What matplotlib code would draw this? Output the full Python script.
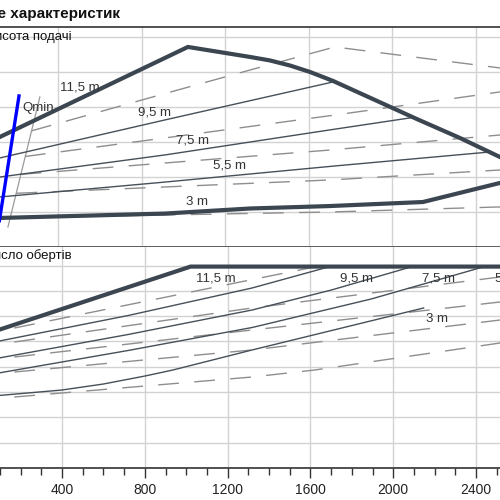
import matplotlib.pyplot as plt
import numpy as np

plt.rcParams['font.family'] = ['Liberation Sans', 'DejaVu Sans']

# ---- upper panel: head H (m) vs flow Q ----
env_q = [20, 121, 1021, 1318, 1414, 1510, 1606, 1716, 1917, 2118, 2324, 2516, 2564]
env_h = [5.71, 6.29, 11.43, 10.86, 10.66, 10.37, 10.0, 9.49, 8.4, 7.31, 6.23, 5.14, 4.88]

low_q = [25, 121, 911, 1318, 1701, 2147, 2516, 2612]
low_h = [1.61, 1.66, 1.91, 2.2, 2.34, 2.57, 3.66, 3.94]

h95_q = [20, 121, 911, 1716]
h95_h = [4.81, 5.09, 7.26, 9.43]
h75_q = [20, 121, 911, 1701, 2099]
h75_h = [3.84, 4.0, 5.26, 6.69, 7.4]
h55_q = [20, 121, 911, 1725, 2468]
h55_h = [2.75, 2.86, 3.71, 4.63, 5.43]

qmin_q = [212, 118]
qmin_h = [8.63, 1.5]
qmin2_q = [312, 159]
qmin2_h = [8.57, 1.14]

# dashed family (second variant)
dash_top_q = [270, 921, 1318, 1725, 2516, 2612]
dash_top_h = [6.63, 8.8, 10.11, 11.43, 10.23, 10.06]
dash_b_q = [240, 911, 1725, 2516, 2612]
dash_b_h = [5.17, 6.23, 7.54, 8.86, 9.01]
dash_c_q = [220, 911, 1701, 2516, 2612]
dash_c_h = [4.15, 4.8, 5.54, 6.4, 6.5]
dash_d_q = [200, 911, 1701, 2516, 2612]
dash_d_h = [3.07, 3.43, 3.83, 4.4, 4.47]
dash_e_q = [170, 911, 1701, 2516, 2612]
dash_e_h = [1.67, 1.83, 2.0, 2.29, 2.32]

# ---- lower panel: speed n (1/min) vs flow Q ----
nmax_q = [25, 121, 1021, 2612]
nmax_n = [2636, 2766, 3980, 3980]
n115_q = [20, 121, 719, 1318, 1687]
n115_n = [2442, 2529, 3013, 3557, 3972]
n95_q = [20, 121, 719, 1318, 1701, 2085]
n95_n = [2114, 2193, 2638, 3122, 3517, 3972]
n75_q = [20, 121, 719, 1318, 1893, 2434]
n75_n = [1822, 1897, 2322, 2776, 3339, 3972]
n3_q = [20, 121, 399, 600, 801, 935, 1318, 2147]
n3_n = [1407, 1442, 1541, 1660, 1818, 1936, 2332, 3162]

ndash_a_q = [169, 1237, 1620]
ndash_a_n = [2766, 3656, 3972]
ndash_b_q = [169, 1318, 2516, 2612]
ndash_b_n = [2490, 3162, 3774, 3853]
ndash_c_q = [169, 1318, 2516, 2612]
ndash_c_n = [2193, 2727, 3280, 3302]
ndash_d_q = [169, 1318, 2516, 2612]
ndash_d_n = [1897, 2332, 2924, 2954]
ndash_e_q = [169, 1318, 1620, 2516, 2612]
ndash_e_n = [1403, 1798, 1936, 2470, 2539]

thick_c = '#3b4650'
thin_c = '#46505a'
dash_c = '#8e8e8e'
grid_c = '#d2d2d2'
txt_c = '#333333'
dash_style = (0, (15, 11))

fig = plt.figure(figsize=(5, 5), dpi=100)
ax1 = fig.add_axes([0, 0.506, 1, 0.44])
ax2 = fig.add_axes([0, 0.064, 1, 0.442])

for ax in (ax1, ax2):
    ax.set_xlim(121, 2516)
    ax.set_xticks(np.arange(400, 2600, 400))
    ax.grid(True, color=grid_c, lw=1.0, zorder=0)
    ax.set_axisbelow(True)
    ax.spines['left'].set_visible(False)
    ax.spines['right'].set_visible(False)
    ax.tick_params(axis='y', length=0, labelleft=False)

ax1.set_ylim(0, 12.57)
ax1.set_yticks(np.arange(0, 13, 2))
ax1.tick_params(axis='x', length=0, labelbottom=False)
ax1.spines['top'].set_color('#333333')
ax1.spines['top'].set_linewidth(1.2)
ax1.spines['bottom'].set_color('#444444')
ax1.spines['bottom'].set_linewidth(1.2)

ax2.set_ylim(0, 4367)
ax2.set_yticks(np.arange(0, 4500, 500))
ax2.spines['top'].set_visible(False)
ax2.spines['bottom'].set_color('#333333')
ax2.spines['bottom'].set_linewidth(1.2)
ax2.set_xticks(np.arange(100, 2600, 100), minor=True)
ax2.tick_params(axis='x', which='major', direction='out', length=7, width=1, color='#333333',
                labelsize=10, labelcolor='#222222', pad=4)
ax2.tick_params(axis='x', which='minor', direction='out', length=5, width=1, color='#333333')

# upper panel curves
for q, h in [(dash_top_q, dash_top_h), (dash_b_q, dash_b_h), (dash_c_q, dash_c_h),
             (dash_d_q, dash_d_h), (dash_e_q, dash_e_h)]:
    ax1.plot(q, h, color=dash_c, lw=1.0, linestyle=dash_style, zorder=2)
ax1.plot(qmin2_q, qmin2_h, color='#9a9a9a', lw=0.9, zorder=2)
for q, h in [(h95_q, h95_h), (h75_q, h75_h), (h55_q, h55_h)]:
    ax1.plot(q, h, color=thin_c, lw=1.0, zorder=3)
ax1.plot(env_q, env_h, color=thick_c, lw=3, solid_joinstyle='miter', zorder=4)
ax1.plot(low_q, low_h, color=thick_c, lw=3, zorder=4)
ax1.plot(qmin_q, qmin_h, color='#0000ff', lw=2.4, zorder=5)

lab = dict(fontsize=9.5, color=txt_c, ha='center', va='center', zorder=6)
ax1.text(504, 9.14, '11,5 m', **lab)
ax1.text(863, 7.66, '9,5 m', **lab)
ax1.text(1045, 6.11, '7,5 m', **lab)
ax1.text(1222, 4.63, '5,5 m', **lab)
ax1.text(1064, 2.57, '3 m', **lab)
ax1.text(226, 7.94, 'Qmin', fontsize=9.5, color=txt_c, ha='left', va='center', zorder=6)

# lower panel curves
for q, n in [(ndash_a_q, ndash_a_n), (ndash_b_q, ndash_b_n), (ndash_c_q, ndash_c_n),
             (ndash_d_q, ndash_d_n), (ndash_e_q, ndash_e_n)]:
    ax2.plot(q, n, color=dash_c, lw=1.0, linestyle=dash_style, zorder=2)
for q, n in [(n115_q, n115_n), (n95_q, n95_n), (n75_q, n75_n), (n3_q, n3_n)]:
    ax2.plot(q, n, color=thin_c, lw=1.0, zorder=3)
ax2.plot(nmax_q, nmax_n, color=thick_c, lw=3, solid_joinstyle='miter', zorder=4)

ax2.text(1141, 3735, '11,5 m', **lab)
ax2.text(1821, 3735, '9,5 m', **lab)
ax2.text(2219, 3735, '7,5 m', **lab)
ax2.text(2492, 3735, '5,5 m', fontsize=9.5, color=txt_c, ha='left', va='center', zorder=6)
ax2.text(2214, 2944, '3 m', **lab)

# titles (left part cut off in the original)
fig.text(120 / 500, 1 - 14 / 500, 'Поле характеристик', fontsize=11, fontweight='bold',
         color='#111111', ha='right', va='center')
fig.text(72 / 500, 1 - 37 / 500, 'Висота подачі', fontsize=9.5, color='#111111',
         ha='right', va='center')
fig.text(72 / 500, 1 - 256 / 500, 'Число обертів', fontsize=9.5, color='#111111',
         ha='right', va='center')

plt.savefig('out.png', dpi=100)
